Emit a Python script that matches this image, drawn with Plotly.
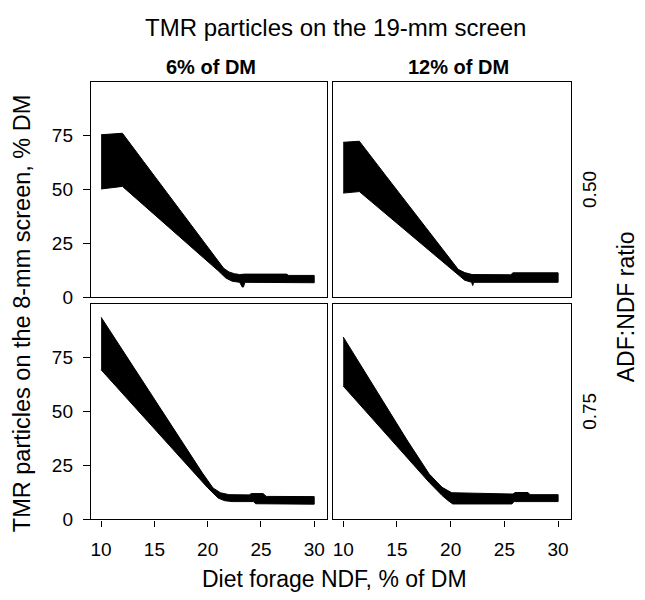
import plotly.graph_objects as go

# ---- data ----
x_ticks = [10, 15, 20, 25, 30]
y_ticks = [0, 25, 50, 75]
col_labels = ["6% of DM", "12% of DM"]
row_labels = ["0.50", "0.75"]

# top-left: 6% of DM, ADF:NDF 0.50
tl_up_x = [10, 12, 14, 16, 18, 20, 21, 21.5, 22, 22.5, 23, 23.5, 27.4, 27.6, 30]
tl_up_y = [75.3, 76.0, 62.8, 49.6, 36.4, 23.2, 16.6, 13.5, 11.8, 11.0, 10.6, 10.8, 10.8, 10.2, 10.2]
tl_lo_x = [10, 12, 14, 16, 18, 20, 21, 21.7, 22.3, 23.0, 23.25, 23.35, 23.5, 30]
tl_lo_y = [50.2, 51.4, 42.7, 34.0, 25.3, 16.6, 12.3, 9.0, 7.5, 7.0, 4.8, 4.8, 7.0, 6.8]

# top-right: 12% of DM, ADF:NDF 0.50
tr_up_x = [10, 11.5, 14, 16, 18, 20, 20.7, 21.3, 22, 25.6, 25.8, 30]
tr_up_y = [71.8, 72.3, 56.1, 43.1, 30.2, 17.2, 13.0, 11.5, 10.6, 10.5, 11.4, 11.4]
tr_lo_x = [10, 11.5, 14, 16, 18, 20, 20.7, 21.3, 21.95, 22.05, 22.15, 30]
tr_lo_y = [48.3, 49.0, 38.5, 30.2, 21.8, 13.4, 10.5, 8.0, 7.0, 5.5, 7.0, 7.0]

# bottom-left: 6% of DM, ADF:NDF 0.75
bl_up_x = [10, 12, 14, 16, 18, 19.5, 20.5, 21.2, 22, 23.9, 24.1, 25.2, 25.5, 30]
bl_up_y = [93.5, 78.3, 63.2, 48.0, 32.9, 21.5, 14.5, 12.3, 11.4, 11.3, 11.9, 11.9, 10.6, 10.5]
bl_lo_x = [10, 12, 14, 16, 18, 20, 21, 21.6, 22.3, 24.3, 24.5, 30]
bl_lo_y = [69.2, 58.3, 47.4, 36.5, 25.5, 14.6, 9.8, 8.6, 8.2, 8.2, 7.2, 7.0]

# bottom-right: 12% of DM, ADF:NDF 0.75
br_up_x = [10, 12, 14, 16, 18, 19.2, 20.1, 25.8, 26.0, 27.2, 27.4, 30]
br_up_y = [84.4, 68.3, 52.2, 36.2, 21.0, 14.8, 12.3, 11.7, 12.4, 12.4, 11.4, 11.4]
br_lo_x = [10, 12, 14, 16, 18, 19.2, 19.8, 20.2, 25.7, 25.9, 30]
br_lo_y = [61.7, 50.6, 39.4, 28.3, 17.1, 11.0, 8.5, 7.1, 7.1, 8.2, 8.2]

panels = [
    (tl_up_x, tl_up_y, tl_lo_x, tl_lo_y, "x", "y"),
    (tr_up_x, tr_up_y, tr_lo_x, tr_lo_y, "x2", "y2"),
    (bl_up_x, bl_up_y, bl_lo_x, bl_lo_y, "x3", "y3"),
    (br_up_x, br_up_y, br_lo_x, br_lo_y, "x4", "y4"),
]

W, H = 645, 600
FONT = "Liberation Sans, Arial, Helvetica, sans-serif"

fig = go.Figure()
for ux, uy, lx, ly, xa, ya in panels:
    fig.add_trace(go.Scatter(
        x=list(ux) + list(lx)[::-1],
        y=list(uy) + list(ly)[::-1],
        mode="lines", fill="toself", fillcolor="black",
        line=dict(color="black", width=1),
        xaxis=xa, yaxis=ya, hoverinfo="skip",
    ))

def px_x(p):
    return p / W

def px_y(p):
    return 1 - p / H

col_dom = [[px_x(91), px_x(327)], [px_x(333), px_x(571)]]
row_dom = [[px_y(303), px_y(84)], [px_y(529), px_y(310)]]

xr = [9.05, 31.2]
yr = [0, 99.5]

layout_axes = {}
idx = 0
for r in range(2):
    for c in range(2):
        idx += 1
        sfx = "" if idx == 1 else str(idx)
        bottom = (r == 1)
        left = (c == 0)
        layout_axes["xaxis" + sfx] = dict(
            domain=col_dom[c], range=xr, anchor="y" + sfx,
            showline=True, mirror=True, linecolor="black", linewidth=1.4,
            showgrid=False, zeroline=False,
            tickvals=x_ticks if bottom else [],
            ticks="outside" if bottom else "", ticklen=6, tickwidth=1.3, tickcolor="black",
            showticklabels=bottom,
            tickfont=dict(size=19, family=FONT, color="black"),
            ticklabelstandoff=7,
        )
        layout_axes["yaxis" + sfx] = dict(
            domain=row_dom[r], range=yr, anchor="x" + sfx,
            showline=True, mirror=True, linecolor="black", linewidth=1.4,
            showgrid=False, zeroline=False,
            tickvals=y_ticks if left else [],
            ticks="outside" if left else "", ticklen=7, tickwidth=1.3, tickcolor="black",
            showticklabels=left,
            tickfont=dict(size=19, family=FONT, color="black"),
            ticklabelstandoff=6,
        )

annotations = [
    dict(text="TMR particles on the 19-mm screen", x=px_x(335), y=px_y(28), size=24, angle=0),
    dict(text="<b>" + col_labels[0] + "</b>", x=px_x(211), y=px_y(68), size=20, angle=0),
    dict(text="<b>" + col_labels[1] + "</b>", x=px_x(458), y=px_y(68), size=20, angle=0),
    dict(text=row_labels[0], x=px_x(590), y=px_y(193.5), size=19, angle=-90),
    dict(text=row_labels[1], x=px_x(590), y=px_y(419.5), size=19, angle=-90),
    dict(text="ADF:NDF ratio", x=px_x(626), y=px_y(313), size=23, angle=-90),
    dict(text="TMR particles on the 8-mm screen, % DM", x=px_x(22), y=px_y(320), size=23.5, angle=-90),
    dict(text="Diet forage NDF, % of DM", x=px_x(334), y=px_y(590), size=23, angle=0),
]

fig.update_layout(
    width=W, height=H,
    margin=dict(l=0, r=0, t=0, b=0),
    paper_bgcolor="white", plot_bgcolor="white",
    showlegend=False,
    font=dict(family=FONT, color="black"),
    annotations=[dict(text=a["text"], x=a["x"], y=a["y"], xref="paper", yref="paper",
                      xanchor="center", yanchor="middle", showarrow=False,
                      textangle=a["angle"], font=dict(size=a["size"], family=FONT, color="black"))
                 for a in annotations],
    **layout_axes,
)

fig.write_html("out.html")
